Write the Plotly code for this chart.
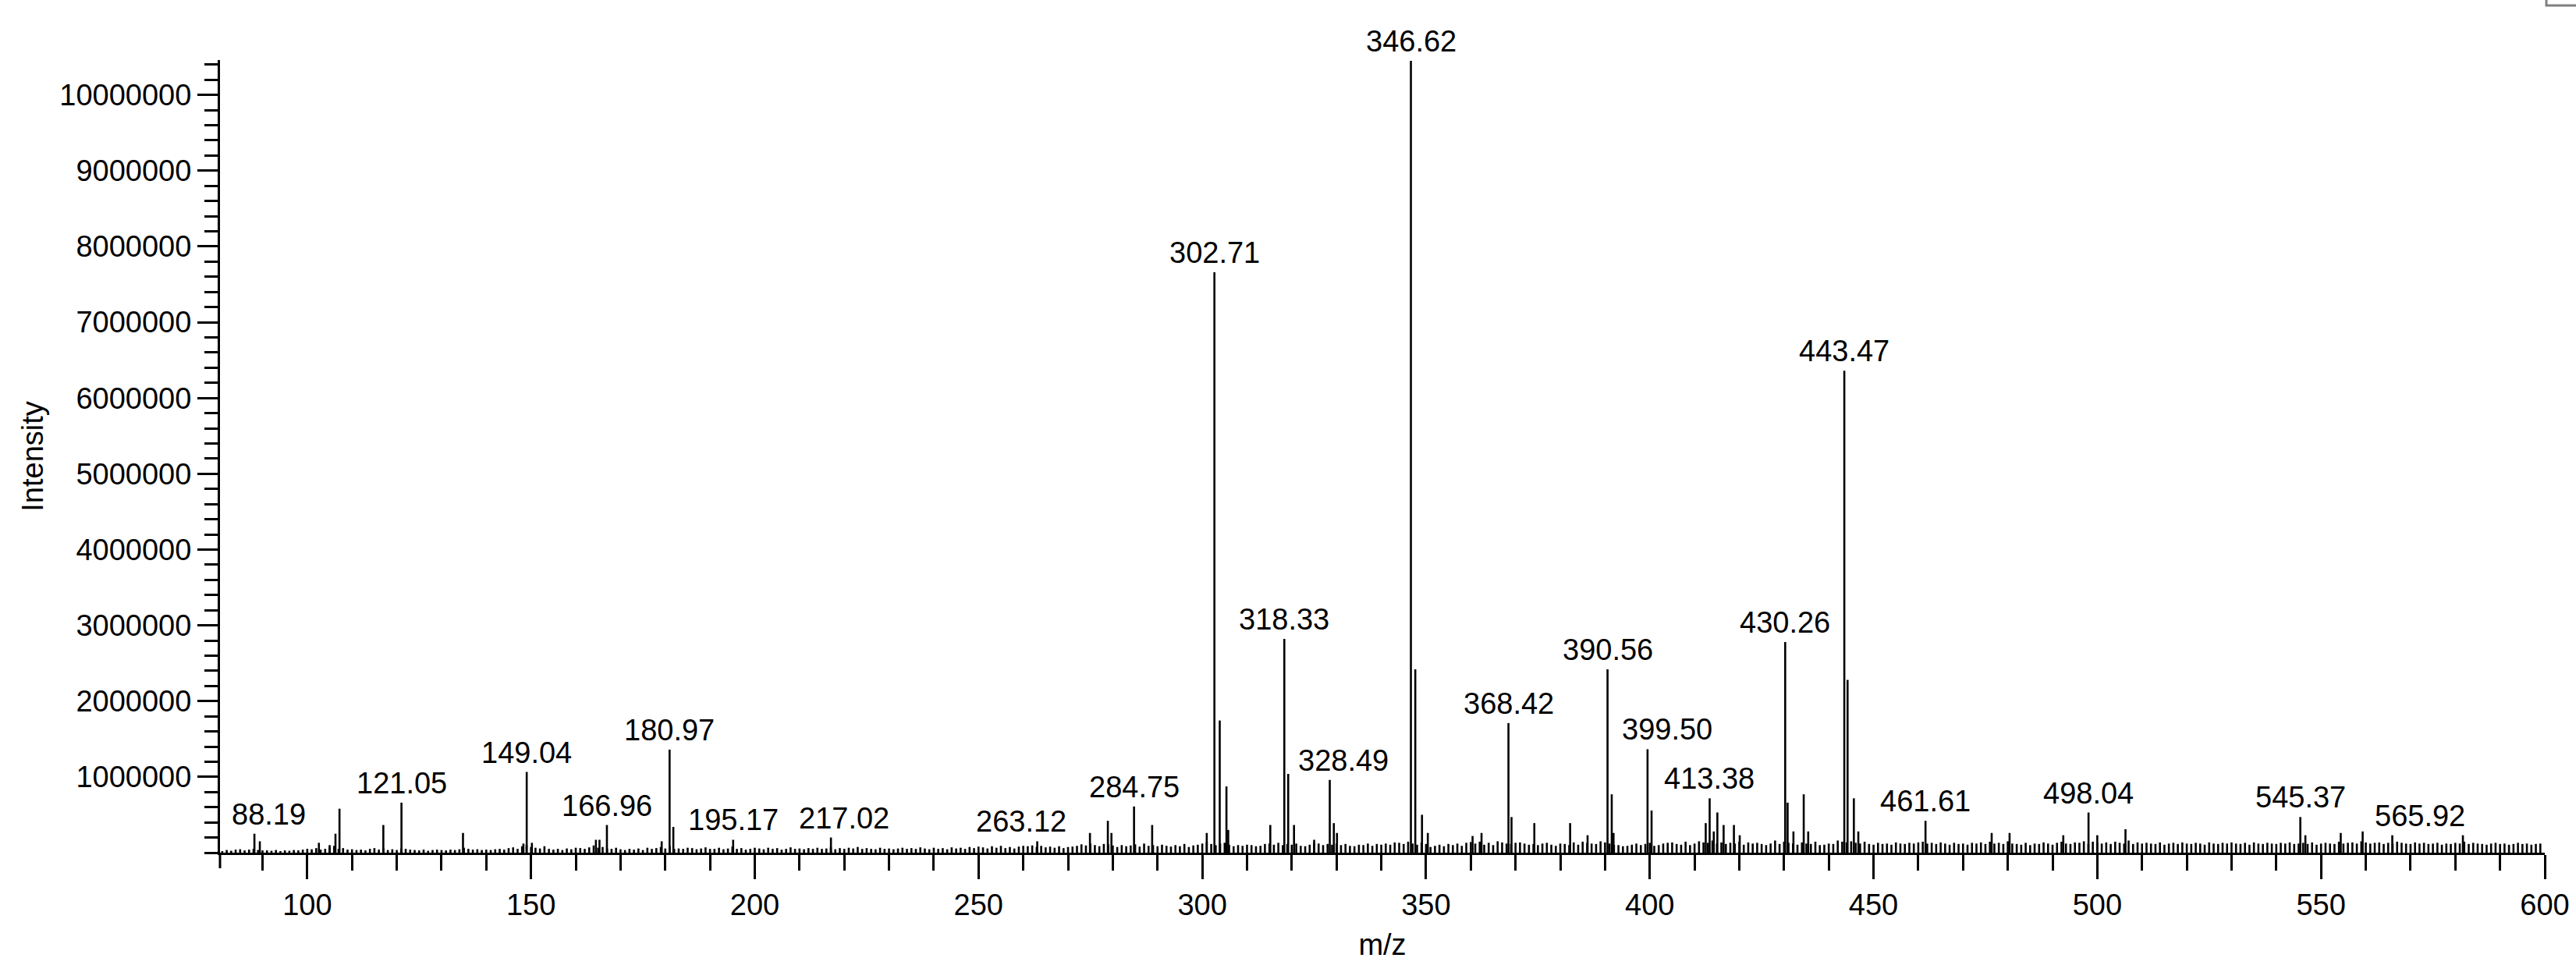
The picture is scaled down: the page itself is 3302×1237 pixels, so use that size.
import plotly.graph_objects as go

# ---------------- data ----------------
# baseline noise: one value (in thousands of counts) per nominal m/z, starting at 81
NOISE_START_MZ = 81
NOISE_K = [
    20, 35, 25, 40, 45, 30, 40, 50, 35, 30,
    30, 25, 35, 20, 30, 25, 35, 30, 40, 50,
    45, 60, 40, 50, 70, 90, 50, 60, 40, 45,
    35, 40, 30, 50, 60, 40, 65, 35, 45, 35,
    55, 50, 40, 35, 30, 40, 25, 35, 40, 35,
    30, 40, 35, 45, 65, 50, 40, 45, 35, 40,
    35, 45, 50, 40, 60, 70, 50, 85, 100, 75,
    65, 55, 85, 50, 40, 50, 35, 55, 45, 65,
    60, 50, 70, 95, 65, 75, 55, 50, 65, 45,
    35, 50, 40, 55, 35, 65, 50, 60, 75, 55,
    85, 50, 55, 50, 65, 60, 45, 55, 70, 50,
    50, 65, 45, 55, 80, 50, 60, 40, 50, 65,
    55, 45, 65, 50, 60, 40, 50, 70, 50, 55,
    45, 60, 50, 65, 50, 55, 75, 45, 60, 50,
    65, 55, 75, 50, 60, 50, 45, 65, 50, 55,
    45, 55, 65, 50, 60, 50, 70, 55, 45, 65,
    50, 60, 45, 70, 55, 65, 50, 75, 60, 80,
    70, 55, 85, 65, 90, 60, 75, 55, 80, 90,
    85, 95, 75, 90, 70, 80, 65, 85, 60, 75,
    80, 90, 110, 95, 120, 100, 85, 115, 110, 95,
    75, 100, 85, 95, 110, 80, 120, 90, 100, 85,
    105, 90, 80, 100, 85, 115, 75, 95, 105, 120,
    140, 115, 100, 120, 130, 105, 85, 100, 90, 105,
    100, 85, 90, 115, 120, 105, 130, 100, 115, 105,
    120, 90, 85, 105, 130, 120, 100, 115, 105, 120,
    100, 115, 90, 85, 105, 100, 120, 90, 115, 105,
    120, 105, 135, 130, 115, 145, 120, 105, 135, 115,
    75, 90, 105, 85, 115, 100, 120, 90, 130, 140,
    120, 145, 105, 130, 100, 150, 135, 120, 115, 130,
    135, 120, 105, 115, 100, 120, 130, 105, 90, 120,
    115, 100, 135, 105, 145, 130, 120, 115, 150, 135,
    120, 105, 100, 85, 90, 105, 120, 100, 115, 130,
    90, 100, 120, 130, 135, 115, 105, 145, 100, 120,
    150, 135, 130, 160, 120, 135, 115, 130, 120, 145,
    105, 135, 120, 130, 115, 100, 120, 160, 115, 145,
    130, 120, 105, 135, 120, 115, 145, 100, 105, 120,
    115, 160, 145, 135, 150, 130, 120, 145, 115, 105,
    130, 115, 120, 105, 135, 120, 115, 130, 120, 135,
    145, 120, 130, 115, 135, 120, 105, 130, 115, 120,
    105, 130, 120, 135, 115, 145, 120, 130, 115, 150,
    120, 115, 105, 130, 100, 120, 115, 135, 120, 105,
    130, 145, 120, 115, 135, 130, 150, 120, 145, 130,
    120, 135, 115, 145, 130, 120, 160, 115, 135, 120,
    130, 120, 115, 135, 105, 120, 130, 115, 135, 120,
    115, 130, 120, 105, 135, 120, 115, 130, 120, 135,
    120, 115, 130, 105, 135, 120, 115, 130, 120, 115,
    130, 120, 135, 115, 120, 130, 115, 135, 105, 120,
    130, 120, 115, 145, 120, 130, 135, 120, 150, 135,
    120, 130, 135, 115, 130, 120, 145, 130, 120, 115,
    135, 120, 130, 115, 120, 130, 105, 120, 115, 130,
    120, 145, 115, 130, 120, 115, 105, 120, 130, 115,
    120, 105, 115, 130, 115, 120, 105, 115, 120,
]

# unlabeled fragment / isotope peaks
PEAK_MZ = [
    89.4, 102.6, 105.0, 106.3, 107.2, 117.0, 134.8, 148.3, 150.2, 164.5,
    165.3, 179.2, 181.8, 274.9, 278.9, 279.7, 288.8, 301.0, 303.9, 305.4,
    305.8, 315.2, 319.2, 320.5, 325.0, 329.4, 330.1, 347.6, 349.1, 350.4,
    360.4, 362.4, 369.1, 374.2, 382.2, 386.1, 391.5, 391.9, 400.4, 412.5,
    414.3, 415.1, 416.5, 418.8, 420.1, 430.8, 432.1, 434.4, 435.4, 444.2,
    445.6, 446.6, 476.4, 480.4, 492.4, 500.0, 506.3, 546.5, 554.4, 559.3,
    581.7,
]
PEAK_INT = [
    150000, 130000, 100000, 250000, 580000, 365000, 260000, 120000, 130000, 170000,
    170000, 150000, 340000, 260000, 420000, 260000, 365000, 260000, 1744000, 874000,
    300000, 365000, 1040000, 365000, 170000, 390000, 260000, 2420000, 500000, 260000,
    220000, 260000, 470000, 390000, 390000, 230000, 770000, 260000, 556000, 390000,
    280000, 530000, 365000, 365000, 230000, 660000, 280000, 770000, 280000, 2280000,
    717000, 280000, 260000, 260000, 230000, 230000, 310000, 230000, 260000, 280000,
    230000,
]

# labeled peaks
LABEL_MZ = [
    88.19, 121.05, 149.04, 166.96, 180.97, 195.17, 217.02, 263.12, 284.75, 302.71,
    318.33, 328.49, 346.62, 368.42, 390.56, 399.50, 413.38, 430.26, 443.47, 461.61,
    498.04, 545.37, 565.92,
]
LABEL_INT = [
    250000, 660000, 1065000, 365000, 1360000, 170000, 200000, 150000, 610000, 7660000,
    2820000, 960000, 10450000, 1710000, 2420000, 1365000, 717000, 2780000, 6360000, 420000,
    530000, 470000, 230000,
]
LABEL_TEXT = [
    "88.19", "121.05", "149.04", "166.96", "180.97", "195.17", "217.02", "263.12", "284.75", "302.71",
    "318.33", "328.49", "346.62", "368.42", "390.56", "399.50", "413.38", "430.26", "443.47", "461.61",
    "498.04", "545.37", "565.92",
]

X_TICKS = [100, 150, 200, 250, 300, 350, 400, 450, 500, 550, 600]
Y_TICKS = [1000000, 2000000, 3000000, 4000000, 5000000,
           6000000, 7000000, 8000000, 9000000, 10000000]
Y_TICK_TEXT = ["1000000", "2000000", "3000000", "4000000", "5000000",
               "6000000", "7000000", "8000000", "9000000", "10000000"]

X_TITLE = "m/z"
Y_TITLE = "Intensity"

# ---------------- styling ----------------
FONT = "Liberation Sans, Arial, sans-serif"
FS = 38
W, H = 3302, 1237
ML, MR, MT, MB = 282, 40, 77, 144
X_RANGE = [80.5, 600]
Y_RANGE = [0, 10460000]
# horizontal nudges (px) for labels that the original software moved sideways
LABEL_DX = {"88.19": 18, "217.02": 17, "263.12": -21, "328.49": 17,
            "399.50": 25, "565.92": 35}

# ---------------- build stems ----------------
mz_all = [NOISE_START_MZ + i for i in range(len(NOISE_K))] + PEAK_MZ + LABEL_MZ
int_all = [k * 1000 for k in NOISE_K] + PEAK_INT + LABEL_INT

xs, ys = [], []
for m, v in zip(mz_all, int_all):
    xs += [m, m, None]
    ys += [0, v, None]

fig = go.Figure()
fig.add_trace(go.Scatter(x=xs, y=ys, mode="lines",
                         line=dict(color="black", width=2.6),
                         hoverinfo="skip", showlegend=False))

for m, v, t in zip(LABEL_MZ, LABEL_INT, LABEL_TEXT):
    fig.add_annotation(x=m, y=v, text=t, showarrow=False,
                       xanchor="center", yanchor="bottom",
                       xshift=LABEL_DX.get(t, 0), yshift=2,
                       font=dict(family=FONT, size=FS, color="black"))

plot_w = W - ML - MR
plot_h = H - MT - MB

# y axis line continues a bit below the baseline
fig.add_shape(type="line", xref="paper", yref="paper",
              x0=0, x1=0, y0=0, y1=-20 / plot_h,
              line=dict(color="black", width=3))
# partially visible frame in the top-right corner
fig.add_shape(type="rect", xref="paper", yref="paper",
              x0=(3264 - ML) / plot_w, x1=(3320 - ML) / plot_w,
              y0=(H - MB - 7) / plot_h, y1=(H - MB + 20) / plot_h,
              line=dict(color="#808080", width=3), fillcolor="rgba(0,0,0,0)")

fig.update_layout(
    width=W, height=H,
    margin=dict(l=ML, r=MR, t=MT, b=MB, pad=0),
    paper_bgcolor="white", plot_bgcolor="white",
    font=dict(family=FONT, size=FS, color="black"),
    showlegend=False,
    xaxis=dict(
        range=X_RANGE, showgrid=False, zeroline=False,
        showline=True, linecolor="black", linewidth=3,
        tickmode="array", tickvals=X_TICKS, ticktext=[str(v) for v in X_TICKS],
        ticks="outside", ticklen=31, tickwidth=2.6, tickcolor="black",
        tickfont=dict(family=FONT, size=FS, color="black"),
        minor=dict(ticks="outside", dtick=10, tick0=0, ticklen=20,
                   tickwidth=2.6, tickcolor="black", showgrid=False),
        title=dict(text=X_TITLE, font=dict(family=FONT, size=FS, color="black"),
                   standoff=18),
        automargin=False,
    ),
    yaxis=dict(
        range=Y_RANGE, showgrid=False, zeroline=False,
        showline=True, linecolor="black", linewidth=3,
        tickmode="array", tickvals=Y_TICKS, ticktext=Y_TICK_TEXT,
        ticks="outside", ticklen=26, tickwidth=2.6, tickcolor="black",
        tickfont=dict(family=FONT, size=FS, color="black"),
        minor=dict(ticks="outside", dtick=200000, tick0=0, ticklen=17,
                   tickwidth=2.6, tickcolor="black", showgrid=False),
        title=dict(text=Y_TITLE, font=dict(family=FONT, size=FS, color="black"),
                   standoff=10),
        automargin=False,
    ),
)

fig.write_html("out.html", config={"displayModeBar": False},
               post_script="document.body.style.margin='0';document.body.style.overflow='hidden';")
